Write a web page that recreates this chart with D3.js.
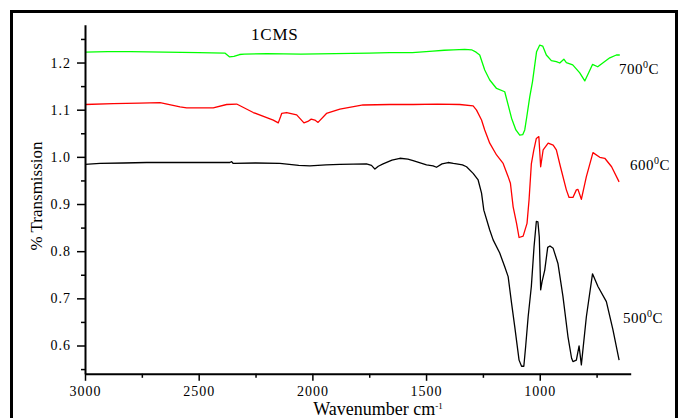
<!DOCTYPE html>
<html>
<head>
<meta charset="utf-8">
<script src="https://cdn.jsdelivr.net/npm/d3@7"></script>
<style>
  html, body { margin: 0; padding: 0; background: #fff; }
  svg { display: block; }
  text { font-family: "Liberation Serif", "Times New Roman", serif; fill: #000; }
</style>
</head>
<body>
<svg id="chart" width="678" height="418"></svg>
<script>
// FTIR spectra of 1CMS calcined at three temperatures
const xMajorTicks = [3000, 2500, 2000, 1500, 1000];
const xMinorTicks = [2750, 2250, 1750, 1250, 750];
const yMajorTicks = [0.6, 0.7, 0.8, 0.9, 1.0, 1.1, 1.2];
const yMinorTicks = [0.55, 0.65, 0.75, 0.85, 0.95, 1.05, 1.15, 1.25];

// 700 °C
const wn700 = [3000, 2900, 2800, 2650, 2500, 2385, 2365, 2345, 2320, 2300, 2200, 2050, 1900, 1750, 1660, 1560, 1470, 1420, 1380, 1330, 1300, 1280, 1264, 1242, 1220, 1190, 1154, 1141, 1124, 1105, 1088, 1075, 1066, 1057, 1044, 1032, 1014, 1000, 987, 971, 949, 927, 912, 894, 883, 855, 824, 802, 789, 768, 745, 723, 692, 663, 648];
const t700 = [1.222, 1.223, 1.223, 1.222, 1.221, 1.220, 1.212, 1.213, 1.217, 1.218, 1.219, 1.218, 1.219, 1.220, 1.221, 1.221, 1.224, 1.226, 1.227, 1.228, 1.227, 1.222, 1.216, 1.184, 1.163, 1.145, 1.138, 1.114, 1.082, 1.057, 1.046, 1.047, 1.057, 1.085, 1.127, 1.159, 1.223, 1.237, 1.235, 1.216, 1.204, 1.202, 1.199, 1.207, 1.200, 1.195, 1.178, 1.161, 1.174, 1.196, 1.191, 1.199, 1.210, 1.216, 1.216];

// 600 °C
const wn600 = [3000, 2876, 2760, 2670, 2582, 2553, 2436, 2377, 2333, 2260, 2172, 2150, 2140, 2135, 2113, 2069, 2037, 2020, 2005, 1989, 1975, 1938, 1879, 1777, 1660, 1557, 1450, 1352, 1293, 1278, 1256, 1242, 1220, 1190, 1161, 1139, 1129, 1117, 1102, 1091, 1073, 1056, 1047, 1037, 1026, 1015, 1004, 996, 985, 963, 941, 927, 909, 883, 871, 854, 839, 832, 817, 795, 766, 736, 714, 684, 651];
const t600 = [1.111, 1.113, 1.114, 1.115, 1.106, 1.104, 1.104, 1.111, 1.112, 1.094, 1.078, 1.072, 1.085, 1.092, 1.094, 1.089, 1.072, 1.075, 1.080, 1.078, 1.073, 1.092, 1.101, 1.110, 1.111, 1.111, 1.112, 1.111, 1.108, 1.099, 1.078, 1.057, 1.029, 1.004, 0.986, 0.958, 0.944, 0.894, 0.859, 0.829, 0.832, 0.859, 0.909, 0.985, 1.015, 1.039, 1.043, 0.979, 1.015, 1.029, 1.025, 1.015, 0.979, 0.930, 0.914, 0.914, 0.930, 0.931, 0.910, 0.958, 1.009, 0.999, 0.997, 0.979, 0.947];

// 500 °C
const wn500 = [3000, 2934, 2830, 2729, 2600, 2480, 2363, 2355, 2348, 2250, 2143, 2060, 2011, 1940, 1879, 1762, 1740, 1725, 1710, 1689, 1650, 1615, 1580, 1557, 1498, 1469, 1454, 1430, 1403, 1380, 1366, 1340, 1322, 1293, 1271, 1256, 1246, 1220, 1205, 1176, 1154, 1139, 1124, 1110, 1091, 1080, 1070, 1062, 1051, 1037, 1025, 1015, 1008, 1002, 996, 990, 978, 965, 955, 941, 920, 898, 876, 860, 854, 839, 827, 817, 795, 768, 744, 707, 678, 651];
const t500 = [0.984, 0.986, 0.987, 0.988, 0.988, 0.988, 0.988, 0.990, 0.986, 0.987, 0.986, 0.982, 0.981, 0.983, 0.984, 0.985, 0.982, 0.974, 0.980, 0.985, 0.993, 0.997, 0.995, 0.992, 0.983, 0.981, 0.978, 0.985, 0.988, 0.986, 0.985, 0.983, 0.979, 0.965, 0.951, 0.923, 0.887, 0.845, 0.824, 0.796, 0.767, 0.746, 0.690, 0.640, 0.569, 0.556, 0.556, 0.598, 0.661, 0.725, 0.810, 0.863, 0.862, 0.830, 0.718, 0.735, 0.760, 0.808, 0.811, 0.806, 0.774, 0.704, 0.619, 0.573, 0.566, 0.569, 0.599, 0.559, 0.661, 0.752, 0.725, 0.693, 0.633, 0.569];

const seriesList = [
  { name: "700", wn: wn700, t: t700, color: "#00ff00" },
  { name: "600", wn: wn600, t: t600, color: "#ff0000" },
  { name: "500", wn: wn500, t: t500, color: "#000000" }
];

const svg = d3.select("#chart");

// outer frame
svg.append("rect")
  .attr("x", 11.5).attr("y", 11.5)
  .attr("width", 665).attr("height", 420)
  .attr("fill", "none").attr("stroke", "#000").attr("stroke-width", 3);

const x = d3.scaleLinear().domain([3000, 600]).range([85, 630.7]);
const y = d3.scaleLinear().domain([0.54, 1.28]).range([373.8, 24.8]);

// spectra
const line = d3.line().x(d => x(d[0])).y(d => y(d[1]));
svg.append("g").selectAll("path")
  .data(seriesList)
  .join("path")
  .attr("d", s => line(s.wn.map((w, i) => [w, s.t[i]])))
  .attr("fill", "none")
  .attr("stroke", s => s.color)
  .attr("stroke-width", 1.3)
  .attr("stroke-linejoin", "round");

// x axis
const gx = svg.append("g").attr("transform", `translate(0,${y(0.54)})`);
gx.call(d3.axisBottom(x).tickValues(xMajorTicks).tickFormat(d3.format("d"))
  .tickSize(7).tickSizeOuter(0).tickPadding(5));
svg.append("g").attr("transform", `translate(0,${y(0.54)})`)
  .call(d3.axisBottom(x).tickValues(xMinorTicks).tickFormat("").tickSize(4).tickSizeOuter(0))
  .call(g => g.select(".domain").remove());

// y axis
const gy = svg.append("g").attr("transform", `translate(${x(3000)},0)`);
gy.call(d3.axisLeft(y).tickValues(yMajorTicks).tickFormat(d3.format(".1f"))
  .tickSize(8).tickSizeOuter(0).tickPadding(6));
svg.append("g").attr("transform", `translate(${x(3000)},0)`)
  .call(d3.axisLeft(y).tickValues(yMinorTicks).tickFormat("").tickSize(4).tickSizeOuter(0))
  .call(g => g.select(".domain").remove());

// serif tick labels, as in the rest of the figure
gx.attr("font-family", null);
gy.attr("font-family", null);
svg.selectAll(".domain").attr("stroke-width", 2);
svg.selectAll(".tick line").attr("stroke-width", 1.5);
svg.selectAll(".tick text")
  .style("font-family", '"Liberation Serif", serif')
  .style("font-size", "14px")
  .style("letter-spacing", "1px");

// axis titles
svg.append("text")
  .attr("x", 378).attr("y", 415)
  .attr("text-anchor", "middle")
  .style("font-size", "18px")
  .call(t => {
    t.append("tspan").text("Wavenumber cm");
    t.append("tspan").attr("dy", -6).style("font-size", "9px").text("-1");
  });

svg.append("text")
  .attr("transform", "translate(42,196) rotate(-90)")
  .attr("text-anchor", "middle")
  .style("font-size", "17px")
  .text("% Transmission");

// sample name
svg.append("text")
  .attr("x", 251).attr("y", 40)
  .style("font-size", "17px")
  .style("letter-spacing", "0.8px")
  .text("1CMS");

// temperature labels
const tempLabels = [
  { name: "700", x: 619, y: 74 },
  { name: "600", x: 630, y: 170 },
  { name: "500", x: 623, y: 323 }
];
tempLabels.forEach(l => {
  const t = svg.append("text").attr("x", l.x).attr("y", l.y).style("font-size", "15px")
    .style("letter-spacing", "0.5px");
  t.append("tspan").text(l.name);
  t.append("tspan").attr("dy", -6).style("font-size", "10px").text("0");
  t.append("tspan").attr("dy", 6).text("C");
});
</script>
</body>
</html>
